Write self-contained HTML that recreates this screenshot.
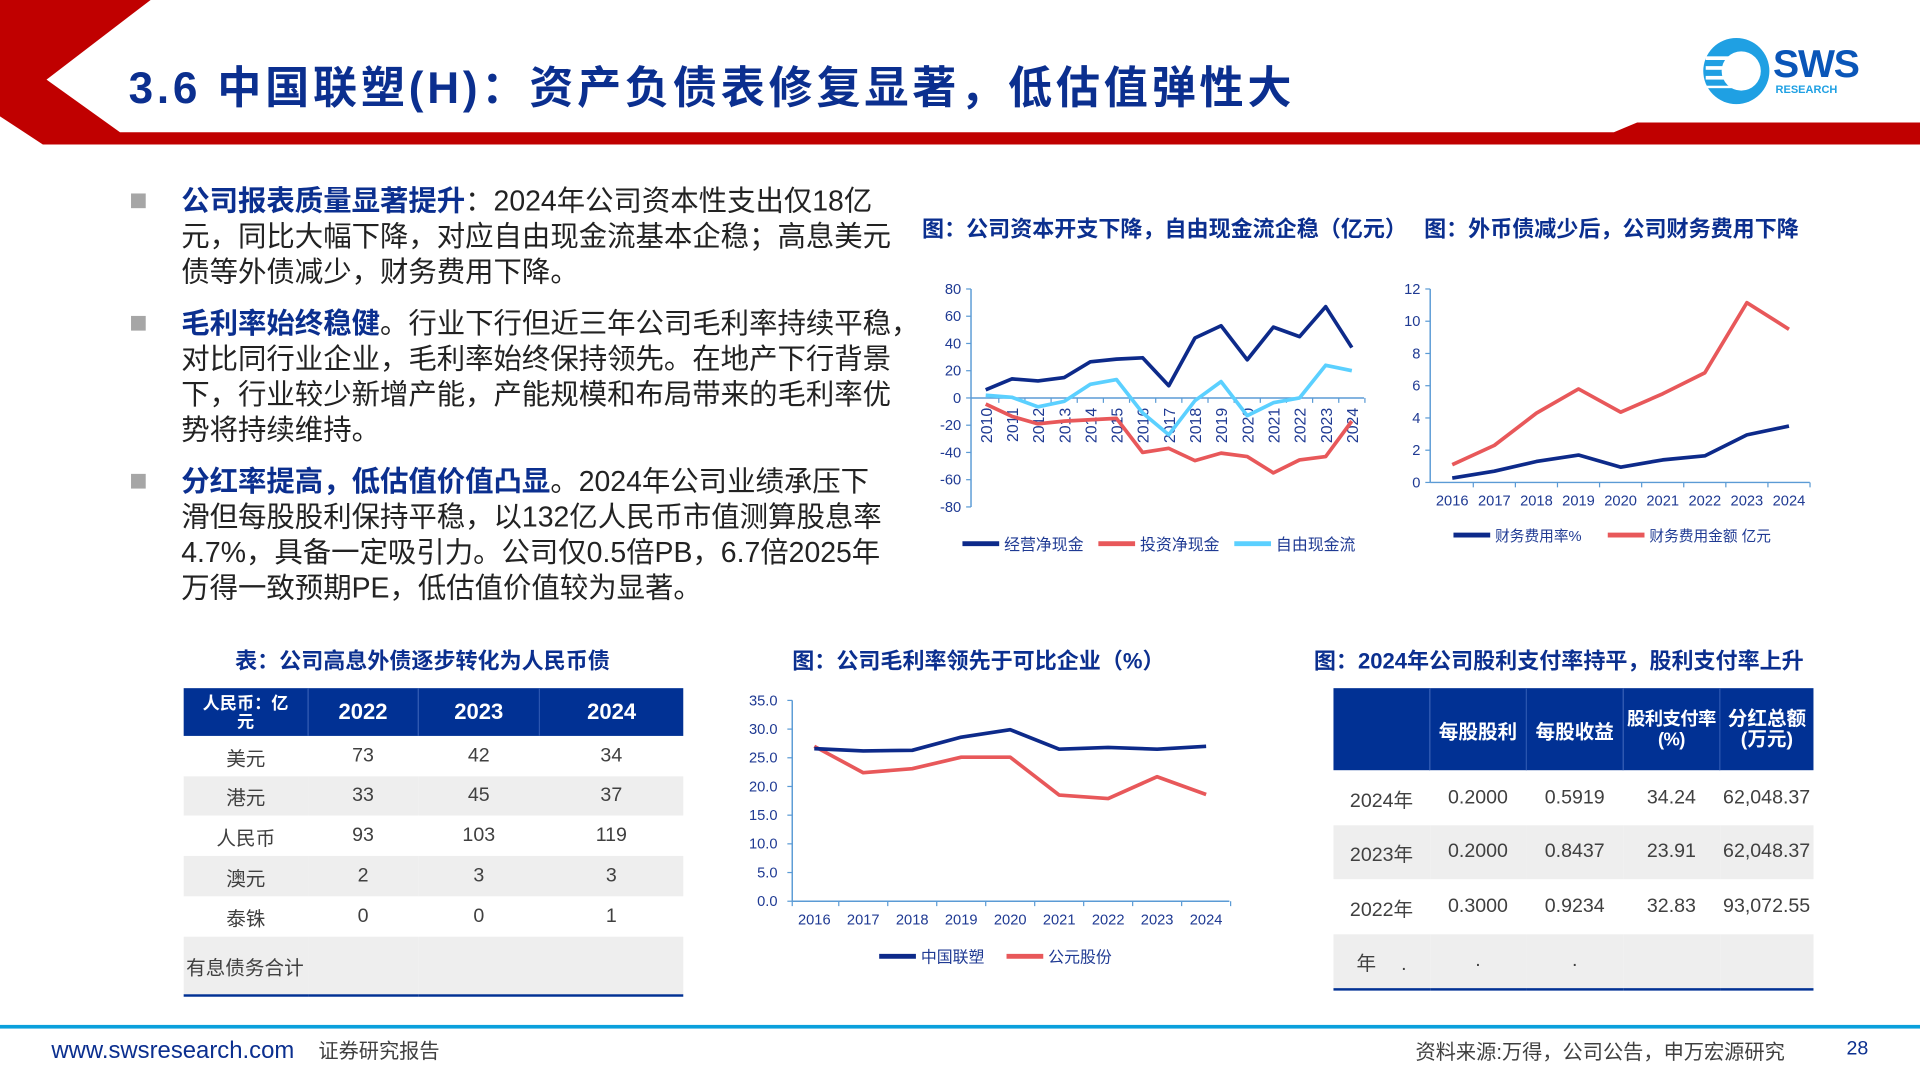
<!DOCTYPE html>
<html><head><meta charset="utf-8">
<style>
html,body{margin:0;padding:0;background:#fff;overflow:hidden;width:1920px;height:1080px}
#root{position:absolute;left:0;top:0;width:1568px;height:882px;transform:scale(1.22449);transform-origin:0 0;font-family:"Liberation Sans","Noto Sans CJK SC",sans-serif;}
.abs{position:absolute}
.title{left:105px;top:43px;font-size:36px;font-weight:bold;color:#0b2f8f;white-space:nowrap;letter-spacing:3.1px}
.bl{position:absolute;left:148px;font-size:23.2px;color:#222;white-space:nowrap;line-height:29px}
.bl b{color:#0b2f8f}
.sq{position:absolute;left:107px;width:12px;height:12px;background:#a6a6a6}
.ct{position:absolute;font-size:18px;font-weight:bold;color:#0b2f8f;white-space:nowrap}
table{border-collapse:collapse;position:absolute;font-family:"Liberation Sans","Noto Sans CJK SC",sans-serif}
td,th{padding:0;text-align:center;color:#404040;font-size:16px;font-weight:normal;white-space:nowrap}
th{background:#013194;color:#fff;font-weight:bold;border-left:1px solid #2a55b0}
tr.g td{background:#eeeeee}
.foot{position:absolute;top:846px;font-size:17px;white-space:nowrap}
</style></head>
<body>
<div id="root">
<svg class="abs" style="left:0;top:0" width="1568" height="130">
<polygon points="0,0 123,0 38,65 98,108 1318,108 1337,100 1568,100 1568,118 35,118 0,95" fill="#c00000"/>
</svg>
<div class="abs title">3.6 中国联塑(H)：资产负债表修复显著，低估值弹性大</div>
<div class="abs" style="left:1390px;top:28px;width:150px;height:62px">
<svg width="60" height="60" style="position:absolute;left:0;top:0"><circle cx="28" cy="30" r="27" fill="#1fa0e3"/><circle cx="32" cy="30" r="16" fill="#fff"/><rect x="3" y="18" width="26" height="3" fill="#fff"/><rect x="3" y="26" width="26" height="3" fill="#fff"/><rect x="3" y="34" width="26" height="3" fill="#fff"/><rect x="3" y="42" width="26" height="2" fill="#fff"/></svg>
<div style="position:absolute;left:58px;top:6px;font-size:32px;font-weight:bold;color:#0a56b8;letter-spacing:-1px">SWS</div>
<div style="position:absolute;left:60px;top:40px;font-size:9px;font-weight:bold;color:#1fa0e3">RESEARCH</div>
</div>

<div class="sq" style="top:158px"></div>
<div class="sq" style="top:258px"></div>
<div class="sq" style="top:387px"></div>
<div class="bl" style="top:150px"><b>公司报表质量显著提升</b>：2024年公司资本性支出仅18亿<br>元，同比大幅下降，对应自由现金流基本企稳；高息美元<br>债等外债减少，财务费用下降。</div>
<div class="bl" style="top:250px"><b>毛利率始终稳健</b>。行业下行但近三年公司毛利率持续平稳，<br>对比同行业企业，毛利率始终保持领先。在地产下行背景<br>下，行业较少新增产能，产能规模和布局带来的毛利率优<br>势将持续维持。</div>
<div class="bl" style="top:379px"><b>分红率提高，低估值价值凸显</b>。2024年公司业绩承压下<br>滑但每股股利保持平稳，以132亿人民币市值测算股息率<br>4.7%，具备一定吸引力。公司仅0.5倍PB，6.7倍2025年<br>万得一致预期PE，低估值价值较为显著。</div>

<div class="ct" style="left:753px;top:173px">图：公司资本开支下降，自由现金流企稳（亿元）</div>
<div class="ct" style="left:1163px;top:173px">图：外币债减少后，公司财务费用下降</div>
<div class="ct" style="left:192px;top:526px">表：公司高息外债逐步转化为人民币债</div>
<div class="ct" style="left:647px;top:526px">图：公司毛利率领先于可比企业（%）</div>
<div class="ct" style="left:1073px;top:526px">图：2024年公司股利支付率持平，股利支付率上升</div>

<svg id="c1" class="abs" style="left:0;top:0" width="1568" height="882"></svg>

<table style="left:150px;top:562px;width:408px">
<tr style="height:39px"><th style="width:101px;font-size:14px;line-height:15px;border-left:none;white-space:normal">人民币：亿<br>元</th><th style="width:89px;font-size:18px">2022</th><th style="width:98px;font-size:18px">2023</th><th style="font-size:18px">2024</th></tr>
<tr style="height:33px"><td>美元</td><td>73</td><td>42</td><td>34</td></tr>
<tr class="g" style="height:32px"><td>港元</td><td>33</td><td>45</td><td>37</td></tr>
<tr style="height:33px"><td>人民币</td><td>93</td><td>103</td><td>119</td></tr>
<tr class="g" style="height:33px"><td>澳元</td><td>2</td><td>3</td><td>3</td></tr>
<tr style="height:33px"><td>泰铢</td><td>0</td><td>0</td><td>1</td></tr>
<tr class="g" style="height:48px;border-bottom:2px solid #013194"><td style="text-align:left;padding-left:2px">有息债务合计</td><td></td><td></td><td></td></tr>
</table>

<table style="left:1089px;top:562px;width:392px;table-layout:fixed">
<tr style="height:67px"><th style="width:78px;border-left:none"></th><th style="width:78px">每股股利</th><th style="width:78px">每股收益</th><th style="width:78px;line-height:17px;font-size:15px;letter-spacing:-0.5px">股利支付率<br>(%)</th><th style="line-height:17px">分红总额<br>(万元)</th></tr>
<tr style="height:45px"><td>2024年</td><td>0.2000</td><td>0.5919</td><td>34.24</td><td>62,048.37</td></tr>
<tr class="g" style="height:44px"><td>2023年</td><td>0.2000</td><td>0.8437</td><td>23.91</td><td>62,048.37</td></tr>
<tr style="height:45px"><td>2022年</td><td>0.3000</td><td>0.9234</td><td>32.83</td><td>93,072.55</td></tr>
<tr class="g" style="height:45px;border-bottom:2px solid #013194"><td>年　 .</td><td>.</td><td>.</td><td></td><td></td></tr>
</table>

<div class="abs" style="left:0;top:837px;width:1568px;height:3px;background:#0aa0dc"></div>
<div class="foot" style="left:42px;top:847px;color:#0b2f8f;font-size:19.5px">www.swsresearch.com</div>
<div class="foot" style="left:260px;color:#404040;top:845px;font-size:16.5px">证券研究报告</div>
<div class="foot" style="left:1156px;color:#404040;font-size:16.5px">资料来源:万得，公司公告，申万宏源研究</div>
<div class="foot" style="left:1508px;top:848px;color:#0b2f8f;font-size:16px">28</div>
</div>

<script>
// Chart 1: cash flow
const cfYears = ["2010","2011","2012","2013","2014","2015","2016","2017","2018","2019","2020","2021","2022","2023","2024"];
const cfOperating = [6,14,12.5,15,26.5,28.5,29.5,9,44,53,28,52,45,67,37];
const cfInvesting = [-4.5,-13.5,-19,-17,-16,-15,-40,-37,-46,-40.5,-43,-55,-45.5,-43,-17];
const cfFree = [2,0.5,-6.5,-2.5,10,13.5,-11,-27,-2,12,-13,-3.5,0,24,20];
const cfTicks = [80,60,40,20,0,-20,-40,-60,-80];
// Chart 2: finance cost
const fcYears = ["2016","2017","2018","2019","2020","2021","2022","2023","2024"];
const fcRate = [0.27,0.7,1.3,1.7,0.95,1.4,1.65,2.95,3.5];
const fcAmount = [1.1,2.3,4.3,5.8,4.36,5.5,6.8,11.15,9.5];
const fcTicks = [0,2,4,6,8,10,12];
// Chart 3: gross margin
const gmYears = ["2016","2017","2018","2019","2020","2021","2022","2023","2024"];
const gmLesso = [26.6,26.2,26.3,28.6,29.9,26.5,26.8,26.5,27.0];
const gmGongyuan = [27.0,22.4,23.1,25.1,25.1,18.5,17.9,21.7,18.6];
const gmTicks = ["0.0","5.0","10.0","15.0","20.0","25.0","30.0","35.0"];

const NS="http://www.w3.org/2000/svg";
const svg=document.getElementById('c1');
function el(tag,attrs,parent){const e=document.createElementNS(NS,tag);for(const k in attrs)e.setAttribute(k,attrs[k]);(parent||svg).appendChild(e);return e;}
const AX="#5b9bd5", TX="#1f3a93", DB="#0d2a8a", RD="#e8585a", LB="#5bd0ff";
const FF='"Liberation Sans","Noto Sans CJK SC",sans-serif';
function line(xs,ys,vals,color,name){
  const pts=vals.map((v,i)=>xs(i)+","+ys(v)).join(" ");
  const p=el('polyline',{points:pts,fill:"none",stroke:color,"stroke-width":3,"stroke-linejoin":"round"});
  
  
}
function legend(x,y,color,label,name,fs){
  const g=el('g',{});
  
  
  el('line',{x1:x,y1:y,x2:x+30,y2:y,stroke:color,"stroke-width":4},g);
  const t=el('text',{x:x+34,y:y+5,"font-size":fs,fill:TX,"font-family":FF},g);t.textContent=label;
}
// chart1
(function(){
  const x0=805,dx=(1104-805)/(cfYears.length-1);
  const xs=i=>x0+i*dx, ys=v=>325-v*(325-236)/80;
  el('line',{x1:793,y1:236,x2:793,y2:414,stroke:AX,"stroke-width":1.2});
  cfTicks.forEach(t=>{el('line',{x1:789,y1:ys(t),x2:793,y2:ys(t),stroke:AX});
    const tx=el('text',{x:785,y:ys(t)+4,"text-anchor":"end","font-size":12,fill:TX,"font-family":FF});tx.textContent=t;});
  el('line',{x1:793,y1:ys(0),x2:1114,y2:ys(0),stroke:AX,"stroke-width":1.2});
  cfYears.forEach((y,i)=>{el('line',{x1:xs(i)+dx/2,y1:ys(0),x2:xs(i)+dx/2,y2:ys(0)+4,stroke:AX});
    const t=el('text',{x:0,y:0,transform:`translate(${xs(i)+5},333) rotate(-90)`,"text-anchor":"end","font-size":13,fill:TX,"font-family":FF});t.textContent=y;});
  line(xs,ys,cfInvesting,RD,'investing-cash-line');
  line(xs,ys,cfFree,LB,'free-cash-line');
  line(xs,ys,cfOperating,DB,'operating-cash-line');
  legend(786,444,DB,"经营净现金",'legend-operating',13);
  legend(897,444,RD,"投资净现金",'legend-investing',13);
  legend(1008,444,LB,"自由现金流",'legend-free-cash',13);
})();
// chart2
(function(){
  const x0=1186,dx=(1461-1186)/(fcYears.length-1);
  const xs=i=>x0+i*dx, ys=v=>394-v*(394-236)/12;
  el('line',{x1:1168,y1:236,x2:1168,y2:394,stroke:AX,"stroke-width":1.2});
  el('line',{x1:1168,y1:394,x2:1478,y2:394,stroke:AX,"stroke-width":1.2});
  fcTicks.forEach(t=>{el('line',{x1:1164,y1:ys(t),x2:1168,y2:ys(t),stroke:AX});
    const tx=el('text',{x:1160,y:ys(t)+4,"text-anchor":"end","font-size":12,fill:TX,"font-family":FF});tx.textContent=t;});
  fcYears.forEach((y,i)=>{el('line',{x1:xs(i)+dx/2,y1:394,x2:xs(i)+dx/2,y2:398,stroke:AX});
    const t=el('text',{x:xs(i),y:413,"text-anchor":"middle","font-size":12,fill:TX,"font-family":FF});t.textContent=y;});
  line(xs,ys,fcAmount,RD,'finance-cost-amount-line');
  line(xs,ys,fcRate,DB,'finance-cost-rate-line');
  legend(1187,437,DB,"财务费用率%",'legend-rate',12);
  legend(1313,437,RD,"财务费用金额 亿元",'legend-amount',12);
})();
// chart3
(function(){
  const x0=665,dx=(985-665)/(gmYears.length-1);
  const xs=i=>x0+i*dx, ys=v=>736-v*(736-572)/35;
  el('line',{x1:647,y1:572,x2:647,y2:736,stroke:AX,"stroke-width":1.2});
  el('line',{x1:647,y1:736,x2:1004,y2:736,stroke:AX,"stroke-width":1.2});
  gmTicks.forEach(t=>{const v=parseFloat(t);el('line',{x1:643,y1:ys(v),x2:647,y2:ys(v),stroke:AX});
    const tx=el('text',{x:635,y:ys(v)+4,"text-anchor":"end","font-size":12,fill:TX,"font-family":FF});tx.textContent=t;});
  gmYears.forEach((y,i)=>{el('line',{x1:xs(i)+dx/2,y1:736,x2:xs(i)+dx/2,y2:740,stroke:AX});
    const t=el('text',{x:xs(i),y:755,"text-anchor":"middle","font-size":12,fill:TX,"font-family":FF});t.textContent=y;});
  el('line',{x1:647,y1:736,x2:647,y2:740,stroke:AX});
  line(xs,ys,gmGongyuan,RD,'gongyuan-margin-line');
  line(xs,ys,gmLesso,DB,'lesso-margin-line');
  legend(718,781,DB,"中国联塑",'legend-lesso',13);
  legend(822,781,RD,"公元股份",'legend-gongyuan',13);
})();
</script>
</body></html>
